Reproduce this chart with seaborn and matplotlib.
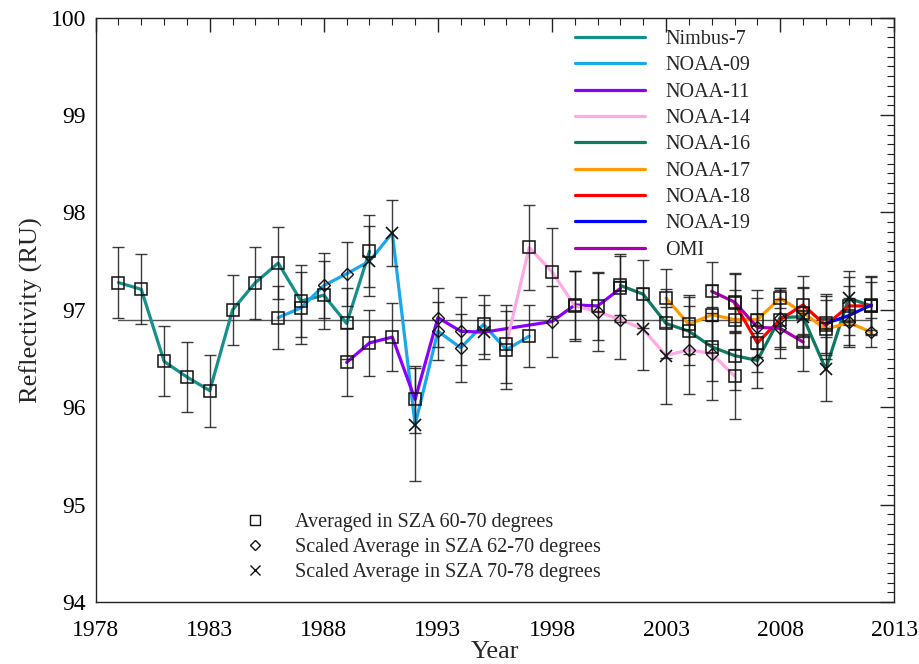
import matplotlib
matplotlib.use("Agg")
import matplotlib.pyplot as plt
from matplotlib.lines import Line2D
from matplotlib.ticker import MultipleLocator
import numpy as np
import pandas as pd
import seaborn as sns

# ---------------- data ----------------
satellites = ["Nimbus-7", "NOAA-09", "NOAA-11", "NOAA-14", "NOAA-16",
              "NOAA-17", "NOAA-18", "NOAA-19", "OMI"]
colors = ["#17908c", "#1aa8ec", "#8a00ff", "#ffaae6", "#0e7a62",
          "#ff9a00", "#ff0000", "#0000ff", "#a800b0"]

nimbus7_years = [1979, 1980, 1981, 1982, 1983, 1984, 1985, 1986, 1987, 1988, 1989, 1990]
nimbus7_vals  = [97.28, 97.21, 96.47, 96.31, 96.17, 97.00, 97.28, 97.48, 97.09, 97.15, 96.86, 97.60]
nimbus7_mark  = ["s"] * 12
nimbus7_err   = [0.36, 0.36, 0.36, 0.36, 0.37, 0.36, 0.37, 0.37, 0.37, 0.35, 0.36, 0.37]

noaa09_years = [1986, 1987, 1988, 1989, 1990, 1991, 1992, 1993, 1994, 1995, 1996, 1997]
noaa09_vals  = [96.92, 97.02, 97.25, 97.37, 97.50, 97.79, 95.82, 96.78, 96.61, 96.85, 96.59, 96.73]
noaa09_mark  = ["s", "s", "d", "d", "x", "x", "x", "d", "d", "s", "s", "s"]
noaa09_err   = [0.32, 0.37, 0.33, 0.33, 0.36, 0.34, 0.58, 0.30, 0.35, 0.30, 0.40, 0.32]

noaa11_years = [1989, 1990, 1991, 1992, 1993, 1994, 1995, 1998, 1999, 2000, 2001]
noaa11_vals  = [96.46, 96.66, 96.72, 96.08, 96.92, 96.78, 96.77, 96.88, 97.05, 97.04, 97.22]
noaa11_mark  = ["s", "s", "s", "s", "d", "d", "x", "d", "s", "s", "s"]
noaa11_err   = [0.35, 0.34, 0.35, 0.34, 0.30, 0.35, 0.28, 0.36, 0.35, 0.35, 0.35]

noaa14_years = [1996, 1997, 1998, 1999, 2000, 2001, 2002, 2003, 2004, 2005, 2006]
noaa14_vals  = [96.65, 97.64, 97.39, 97.04, 96.98, 96.90, 96.80, 96.53, 96.59, 96.55, 96.32]
noaa14_mark  = ["s", "s", "s", "s", "d", "d", "x", "x", "d", "d", "s"]
noaa14_err   = [0.40, 0.44, 0.45, 0.36, 0.40, 0.40, 0.42, 0.50, 0.45, 0.48, 0.44]

noaa16_years = [2001, 2002, 2003, 2004, 2005, 2006, 2007, 2008, 2009, 2010, 2011, 2012]
noaa16_vals  = [97.25, 97.16, 96.86, 96.78, 96.62, 96.53, 96.48, 96.92, 96.93, 96.39, 97.12, 97.04]
noaa16_mark  = ["s", "s", "s", "s", "s", "s", "d", "d", "x", "x", "x", "s"]
noaa16_err   = [0.30, 0.35, 0.35, 0.35, 0.35, 0.35, 0.28, 0.30, 0.30, 0.33, 0.28, 0.25]

noaa17_years = [2003, 2004, 2005, 2006, 2007, 2008, 2009, 2010, 2011, 2012]
noaa17_vals  = [97.12, 96.85, 96.95, 96.90, 96.90, 97.12, 96.97, 96.80, 96.87, 96.77]
noaa17_mark  = ["s", "s", "s", "s", "s", "s", "s", "s", "d", "d"]
noaa17_err   = [0.30, 0.30, 0.30, 0.30, 0.30, 0.10, 0.25, 0.30, 0.25, 0.15]

noaa18_years = [2006, 2007, 2008, 2009, 2010, 2011, 2012]
noaa18_vals  = [97.07, 96.66, 96.90, 97.05, 96.84, 97.04, 97.04]
noaa18_mark  = ["s", "s", "s", "s", "s", "s", "s"]
noaa18_err   = [0.30, 0.30, 0.30, 0.30, 0.30, 0.30, 0.30]

noaa19_years = [2010, 2011, 2012]
noaa19_vals  = [96.86, 96.94, 97.05]
noaa19_mark  = ["s", "s", "s"]
noaa19_err   = [0.30, 0.30, 0.30]

omi_years = [2005, 2006, 2007, 2008, 2009]
omi_vals  = [97.19, 97.08, 96.82, 96.81, 96.67]
omi_mark  = ["s", "s", "d", "d", "s"]
omi_err   = [0.30, 0.30, 0.30, 0.30, 0.30]

reference_level = 96.9
reference_span = [1979, 2012]

marker_labels = ["Averaged in SZA 60-70 degrees",
                 "Scaled Average in SZA 62-70 degrees",
                 "Scaled Average in SZA 70-78 degrees"]

x_ticks = [1978, 1983, 1988, 1993, 1998, 2003, 2008, 2013]
y_ticks = [94, 95, 96, 97, 98, 99, 100]

series = [
    (nimbus7_years, nimbus7_vals, nimbus7_mark, nimbus7_err),
    (noaa09_years, noaa09_vals, noaa09_mark, noaa09_err),
    (noaa11_years, noaa11_vals, noaa11_mark, noaa11_err),
    (noaa14_years, noaa14_vals, noaa14_mark, noaa14_err),
    (noaa16_years, noaa16_vals, noaa16_mark, noaa16_err),
    (noaa17_years, noaa17_vals, noaa17_mark, noaa17_err),
    (noaa18_years, noaa18_vals, noaa18_mark, noaa18_err),
    (noaa19_years, noaa19_vals, noaa19_mark, noaa19_err),
    (omi_years, omi_vals, omi_mark, omi_err),
]

rows = []
for name, (yrs, vals, mk, er) in zip(satellites, series):
    for a, b, c, d in zip(yrs, vals, mk, er):
        rows.append(dict(year=a, refl=b, marker=c, err=d, sat=name))
df = pd.DataFrame(rows)

# ---------------- plot ----------------
sns.set_theme(style="white")
plt.rcParams["font.family"] = ["Liberation Serif", "DejaVu Serif"]

fig = plt.figure(figsize=(9.2, 6.64), dpi=100)
ax = fig.add_axes([0.104, 0.0934, 0.868, 0.880])

ax.plot(reference_span, [reference_level] * 2, color="#555555", lw=1.0, zorder=1)

palette = dict(zip(satellites, colors))
sns.lineplot(data=df, x="year", y="refl", hue="sat", units="sat",
             palette=palette, estimator=None, sort=True, lw=2.3,
             legend=False, ax=ax, zorder=2)

ax.errorbar(df["year"], df["refl"], yerr=df["err"], fmt="none",
            ecolor="#1a1a1a", elinewidth=1.0, capsize=4, capthick=1.0,
            alpha=0.85, zorder=3)

mstyle = {"s": dict(marker="s", ms=9, mfc="none", mec="#111111", mew=1.1),
          "d": dict(marker="D", ms=6, mfc="none", mec="#111111", mew=1.0),
          "x": dict(marker="x", ms=9, mec="#111111", mew=1.2)}
for code, st in mstyle.items():
    sub = df[df["marker"] == code]
    ax.plot(sub["year"], sub["refl"], ls="none", zorder=4, **st)

ax.set_xlim(1978, 2013)
ax.set_ylim(94, 100)
ax.set_xticks(x_ticks)
ax.set_yticks(y_ticks)
ax.xaxis.set_minor_locator(MultipleLocator(1))
ax.yaxis.set_minor_locator(MultipleLocator(0.1))
ax.tick_params(which="both", direction="in", top=True, right=True,
               colors="#222222", labelcolor="black")
ax.tick_params(which="major", length=10, width=1.0, labelsize=17, pad=7)
ax.tick_params(axis="x", which="major", pad=13)
ax.tick_params(which="minor", length=5, width=0.8)
for sp in ax.spines.values():
    sp.set_color("#222222")
    sp.set_linewidth(1.0)

ax.set_xlabel("Year", fontsize=19, labelpad=0)
ax.set_ylabel("Reflectivity (RU)", fontsize=19)
ax.yaxis.set_label_coords(-0.066, 0.5)

# satellite legend
handles = [Line2D([0], [0], color=c, lw=2.3) for c in colors]
leg1 = ax.legend(handles, satellites, loc="upper left",
                 bbox_to_anchor=(0.600, 0.979), frameon=False, fontsize=14.5,
                 handlelength=3.5, handletextpad=1.0, labelspacing=0.36,
                 borderpad=0, borderaxespad=0)
ax.add_artist(leg1)

# marker legend
mh = [Line2D([0], [0], ls="none", marker="s", ms=7, mfc="none", mec="#111111", mew=1.0),
      Line2D([0], [0], ls="none", marker="D", ms=5, mfc="none", mec="#111111", mew=1.0),
      Line2D([0], [0], ls="none", marker="x", ms=7, mec="#111111", mew=1.0)]
ax.legend(mh, marker_labels, loc="upper left", bbox_to_anchor=(0.187, 0.153),
          frameon=False, fontsize=14.5, handlelength=1.0, handletextpad=1.5,
          labelspacing=0.3, borderpad=0, borderaxespad=0)

fig.savefig("out.png", dpi=100)
